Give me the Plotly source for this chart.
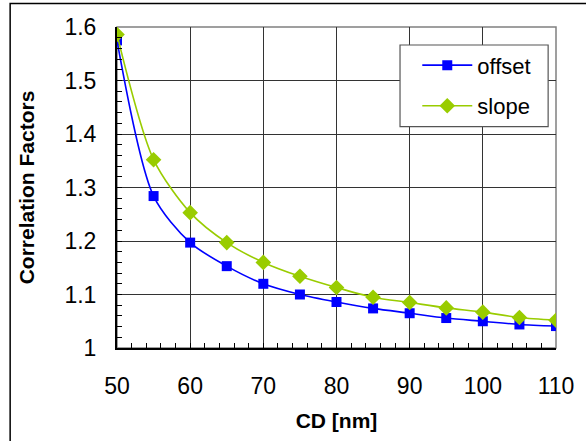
import plotly.graph_objects as go

cd = [50, 55, 60, 65, 70, 75, 80, 85, 90, 95, 100, 105, 110]
offset = [1.575, 1.284, 1.197, 1.153, 1.120, 1.100, 1.086, 1.074, 1.065, 1.056, 1.050, 1.044, 1.041]
slope = [1.586, 1.352, 1.253, 1.197, 1.160, 1.134, 1.113, 1.095, 1.085, 1.075, 1.067, 1.057, 1.052]

x_ticks = [50, 60, 70, 80, 90, 100, 110]
y_ticks = [1.0, 1.1, 1.2, 1.3, 1.4, 1.5, 1.6]
y_labels = ["1", "1.1", "1.2", "1.3", "1.4", "1.5", "1.6"]

FONT = "Liberation Sans, Arial, sans-serif"

fig = go.Figure()
fig.add_trace(go.Scatter(
    x=cd, y=offset, name="offset", mode="lines+markers",
    line=dict(color="#0000FF", width=1.6, shape="spline", smoothing=0.8),
    marker=dict(symbol="square", size=10, color="#0000FF"),
    legendgroup="a",
))
fig.add_trace(go.Scatter(
    x=cd, y=slope, name="slope", mode="lines+markers",
    line=dict(color="#99CC00", width=1.6, shape="spline", smoothing=0.8),
    marker=dict(symbol="diamond", size=12, color="#99CC00"),
    legendgroup="b",
))

axis_common = dict(
    showgrid=True, gridcolor="#333333", gridwidth=1,
    showline=True, linecolor="#000000", linewidth=2,
    ticks="inside", ticklen=5, tickcolor="#000000",
    tickfont=dict(family=FONT, size=23, color="#000000"),
    zeroline=False,
)

fig.update_layout(
    width=586, height=441,
    margin=dict(l=117, r=28, t=27, b=93),
    paper_bgcolor="white", plot_bgcolor="white",
    font=dict(family=FONT, color="#000000"),
    showlegend=True,
    legend=dict(
        x=0.684, y=0.946, xanchor="left", yanchor="top",
        bgcolor="rgba(0,0,0,0)", borderwidth=0,
        font=dict(family=FONT, size=22, color="#000000"),
        itemwidth=50, tracegroupgap=9, traceorder="grouped",
    ),
    xaxis=dict(
        range=[50, 110], tickvals=x_ticks,
        minor=dict(ticks="inside", dtick=2, tick0=50, ticklen=5, tickcolor="#000000", showgrid=False),
        ticklabelstandoff=16,
        title=dict(text="<b>CD [nm]</b>", font=dict(family=FONT, size=21), standoff=16),
        **axis_common,
    ),
    yaxis=dict(
        range=[1.0, 1.6], tickvals=y_ticks, ticktext=y_labels,
        minor=dict(ticks="inside", dtick=0.02, tick0=1.0, ticklen=5, tickcolor="#000000", showgrid=False),
        ticklabelstandoff=14,
        title=dict(text="<b>Correlation Factors</b>", font=dict(family=FONT, size=21), standoff=24),
        **axis_common,
    ),
    shapes=[
        dict(type="rect", xref="paper", yref="paper", x0=0, x1=1, y0=0, y1=1,
             line=dict(color="#808080", width=1.5), layer="below"),
        dict(type="rect", xref="paper", yref="paper", x0=-0.2434, x1=1.3, y0=-0.6, y1=1.0732,
             line=dict(color="#000000", width=1.5), layer="below"),
        dict(type="rect", xref="paper", yref="paper", x0=0.6447, x1=0.9821, y0=0.6894, y1=0.9439,
             line=dict(color="#555555", width=1.2), fillcolor="white", layer="above"),
    ],
)

fig.write_html("out.html")
